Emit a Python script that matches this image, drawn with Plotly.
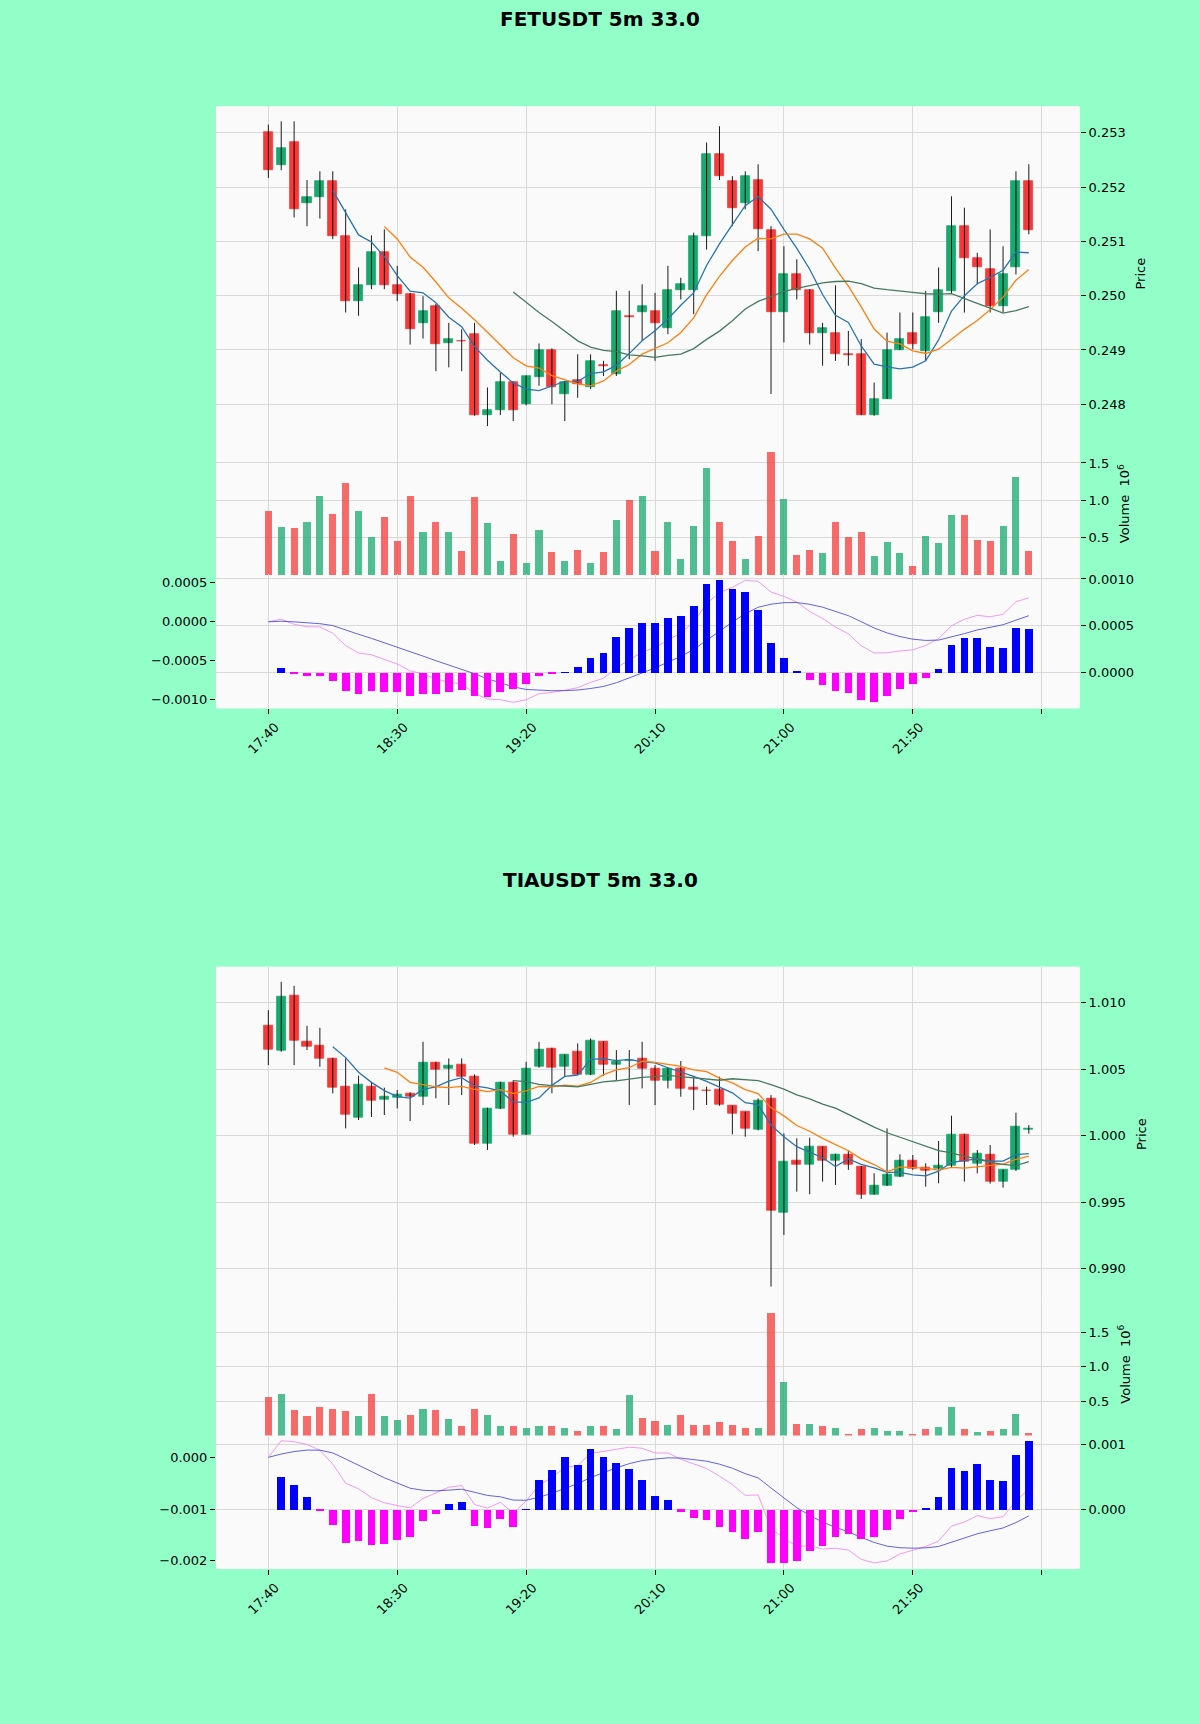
import pandas as pd
import plotly.graph_objects as go

W, H = 1200, 1724
HALF = 862

# x axis: one candle per 5 minutes, labels every 10 candles
TICK_POS = [0, 10, 20, 30, 40, 50]
TICK_TEXT = ["17:40", "18:30", "19:20", "20:10", "21:00", "21:50"]
EXTRA_TICK = [60]

fet_open = [0.25302, 0.25240, 0.25282, 0.25170, 0.25182, 0.25211, 0.25110, 0.24990, 0.25019, 0.25081,
            0.25019, 0.25002, 0.24949, 0.24981, 0.24912, 0.24917, 0.24929, 0.24780, 0.24790, 0.24840,
            0.24800, 0.24850, 0.24900, 0.24819, 0.24845, 0.24831, 0.24872, 0.24855, 0.24962, 0.24969,
            0.24971, 0.24941, 0.25010, 0.25010, 0.25110, 0.25261, 0.25211, 0.25171, 0.25213, 0.25121,
            0.24970, 0.25039, 0.25010, 0.24931, 0.24931, 0.24892, 0.24892, 0.24780, 0.24810, 0.24900,
            0.24931, 0.24898, 0.24969, 0.25009, 0.25129, 0.25070, 0.25049, 0.24981, 0.25052, 0.25211]
fet_high = [0.25315, 0.25321, 0.25321, 0.25213, 0.25229, 0.25229, 0.25159, 0.25052, 0.25111, 0.25122,
            0.25055, 0.25005, 0.24999, 0.24985, 0.24950, 0.24938, 0.24950, 0.24831, 0.24858, 0.24842,
            0.24853, 0.24912, 0.24903, 0.24841, 0.24892, 0.24892, 0.24880, 0.25009, 0.25009, 0.25021,
            0.25005, 0.25055, 0.25033, 0.25116, 0.25282, 0.25312, 0.25220, 0.25229, 0.25242, 0.25128,
            0.25091, 0.25067, 0.25012, 0.24950, 0.25019, 0.24935, 0.24920, 0.24840, 0.24932, 0.24969,
            0.24969, 0.25009, 0.25052, 0.25183, 0.25162, 0.25079, 0.25122, 0.25091, 0.25229, 0.25242]
fet_low = [0.25217, 0.25231, 0.25144, 0.25128, 0.25142, 0.25104, 0.24969, 0.24963, 0.25012, 0.25012,
           0.24990, 0.24910, 0.24921, 0.24861, 0.24868, 0.24861, 0.24779, 0.24760, 0.24780, 0.24769,
           0.24798, 0.24834, 0.24800, 0.24769, 0.24812, 0.24828, 0.24852, 0.24852, 0.24883, 0.24917,
           0.24880, 0.24929, 0.24993, 0.24966, 0.25085, 0.25213, 0.25128, 0.25159, 0.25082, 0.24819,
           0.24914, 0.24993, 0.24910, 0.24871, 0.24880, 0.24871, 0.24780, 0.24779, 0.24810, 0.24900,
           0.24901, 0.24880, 0.24950, 0.25003, 0.24969, 0.25021, 0.24969, 0.24969, 0.25039, 0.25113]
fet_close = [0.25231, 0.25272, 0.25159, 0.25182, 0.25211, 0.25109, 0.24990, 0.25020, 0.25081, 0.25019,
             0.25002, 0.24939, 0.24971, 0.24910, 0.24920, 0.24916, 0.24780, 0.24790, 0.24840, 0.24790,
             0.24851, 0.24900, 0.24831, 0.24840, 0.24838, 0.24880, 0.24870, 0.24971, 0.24961, 0.24981,
             0.24950, 0.25010, 0.25021, 0.25110, 0.25261, 0.25220, 0.25162, 0.25220, 0.25122, 0.24970,
             0.25039, 0.25010, 0.24931, 0.24941, 0.24892, 0.24890, 0.24780, 0.24810, 0.24900, 0.24920,
             0.24910, 0.24961, 0.25010, 0.25129, 0.25070, 0.25052, 0.24981, 0.25039, 0.25211, 0.25121]
fet_volume = [0.86, 0.635, 0.62, 0.71, 1.05, 0.81, 1.23, 0.86, 0.51, 0.77,
              0.455, 1.06, 0.577, 0.70, 0.577, 0.32, 1.036, 0.69, 0.19, 0.545,
              0.16, 0.595, 0.306, 0.185, 0.33, 0.16, 0.306, 0.734, 0.995, 1.05,
              0.32, 0.71, 0.207, 0.653, 1.43, 0.70, 0.455, 0.207, 0.52, 1.64,
              1.02, 0.26, 0.33, 0.29, 0.70, 0.51, 0.577, 0.25, 0.44, 0.29,
              0.117, 0.52, 0.42, 0.80, 0.80, 0.47, 0.455, 0.653, 1.306, 0.32]
fet_macd_bar = [0.0, 0.00005, -0.000018, -0.00004, -0.00004, -0.000093, -0.0002, -0.000232, -0.0002, -0.000207,
                -0.000207, -0.000243, -0.000225, -0.000232, -0.000207, -0.000189, -0.000243, -0.00026, -0.000207, -0.000179,
                -0.000125, -0.00004, -0.000018, 0.000007, 0.00006, 0.000157, 0.00021, 0.00038, 0.000471, 0.000532,
                0.000525, 0.000579, 0.0006, 0.00071, 0.000943, 0.000986, 0.000893, 0.000857, 0.000668, 0.000321,
                0.000157, 0.000014, -0.000082, -0.000136, -0.0002, -0.000218, -0.000296, -0.000314, -0.000243, -0.000179,
                -0.000125, -0.000057, 0.000036, 0.0003, 0.000371, 0.000371, 0.000275, 0.000264, 0.000471, 0.000461]

tia_open = [1.00830, 1.00635, 1.01055, 1.00705, 1.00675, 1.00580, 1.003675, 1.001375, 1.003675, 1.002675,
            1.00285, 1.003175, 1.002925, 1.00550, 1.00505, 1.00535, 1.004425, 0.999425, 1.00205, 1.00400,
            1.00010, 1.005175, 1.00650, 1.005175, 1.00630, 1.00460, 1.00710, 1.00535, 1.00560, 1.00575,
            1.00505, 1.00410, 1.00500, 1.003575, 1.00340, 1.003425, 1.00225, 1.001775, 1.000425, 1.00275,
            0.99425, 0.99810, 0.99780, 0.999175, 0.99810, 0.99860, 0.99770, 0.99560, 0.99625, 0.996925,
            0.99810, 0.99760, 0.99750, 0.99775, 1.00010, 0.997925, 0.99860, 0.99655, 0.997425, 1.000425]
tia_high = [1.009425, 1.01155, 1.01125, 1.00825, 1.00810, 1.00585, 1.00580, 1.00450, 1.00400, 1.00360,
            1.003425, 1.00325, 1.00705, 1.00555, 1.00580, 1.00580, 1.00460, 1.00210, 1.00405, 1.004175,
            1.00555, 1.00705, 1.00660, 1.00612, 1.006925, 1.00730, 1.00710, 1.006425, 1.006425, 1.00705,
            1.00530, 1.00510, 1.00560, 1.004425, 1.003675, 1.004425, 1.00228, 1.00180, 1.00280, 1.00305,
            1.000175, 0.99980, 0.99985, 0.99920, 0.99865, 0.998925, 0.99772, 0.997175, 1.00055, 0.99860,
            0.99855, 0.997925, 0.99960, 1.00150, 1.00015, 0.998925, 0.99930, 0.99745, 1.001725, 1.00080]
tia_low = [1.00530, 1.00630, 1.00530, 1.006425, 1.005175, 1.00318, 1.00055, 1.00118, 1.00140, 1.00155,
           1.00205, 1.00110, 1.00230, 1.00280, 1.00230, 1.00305, 0.99930, 0.998925, 1.00200, 0.999925,
           1.00005, 1.00510, 1.00318, 1.004425, 1.00455, 1.00455, 1.00450, 1.004175, 1.00230, 1.00355,
           1.00230, 1.00355, 1.002925, 1.001925, 1.00230, 1.00225, 1.00010, 0.999925, 1.00040, 0.988675,
           0.99255, 0.99580, 0.99560, 0.99655, 0.99630, 0.99743, 0.99525, 0.99558, 0.99622, 0.99690,
           0.99743, 0.996175, 0.996425, 0.99760, 0.99655, 0.997175, 0.99640, 0.99610, 0.99735, 1.00015]
tia_close = [1.006425, 1.010425, 1.007125, 1.006675, 1.00580, 1.00360, 1.00155, 1.00380, 1.00260, 1.002925,
             1.00310, 1.002925, 1.00550, 1.004925, 1.005225, 1.004425, 0.999425, 1.00205, 1.00400, 1.00010,
             1.00500, 1.006425, 1.00510, 1.00610, 1.00460, 1.007175, 1.00530, 1.00555, 1.00565, 1.00500,
             1.00410, 1.00500, 1.00350, 1.00348, 1.00335, 1.00230, 1.001675, 1.00055, 1.00260, 0.99435,
             0.99805, 0.99780, 0.999175, 0.99810, 0.99860, 0.99780, 0.99560, 0.99625, 0.99710, 0.99810,
             0.99750, 0.99735, 0.99775, 1.00010, 0.99805, 0.998675, 0.99655, 0.997425, 1.000675, 1.000525]
tia_volume = [0.56, 0.61, 0.38, 0.28, 0.42, 0.39, 0.356, 0.28, 0.61, 0.28,
              0.234, 0.297, 0.395, 0.37, 0.25, 0.136, 0.395, 0.297, 0.136, 0.146,
              0.12, 0.146, 0.146, 0.11, 0.073, 0.146, 0.136, 0.097, 0.59, 0.258,
              0.21, 0.15, 0.297, 0.15, 0.16, 0.20, 0.15, 0.11, 0.11, 1.778,
              0.784, 0.17, 0.17, 0.146, 0.12, 0.024, 0.097, 0.11, 0.073, 0.073,
              0.024, 0.10, 0.127, 0.42, 0.097, 0.054, 0.073, 0.10, 0.317, 0.04]
tia_macd_bar = [0.0, 0.000513, 0.000389, 0.000202, -0.00001, -0.000238, -0.000508, -0.000482, -0.000534, -0.000518,
                -0.000456, -0.000415, -0.000171, -0.000057, 0.000098, 0.000114, -0.000249, -0.000275, -0.000135, -0.000264,
                0.000003, 0.000467, 0.000607, 0.000814, 0.000695, 0.000944, 0.000814, 0.000715, 0.000632, 0.000467,
                0.000218, 0.000156, -0.000026, -0.000119, -0.000161, -0.000259, -0.000337, -0.000441, -0.000342, -0.000819,
                -0.000819, -0.000783, -0.000632, -0.000549, -0.00042, -0.000378, -0.000441, -0.00042, -0.000316, -0.000145,
                -0.000031, 0.000026, 0.000192, 0.000643, 0.000601, 0.00071, 0.000461, 0.000441, 0.00085, 0.001058]

MA_WINDOWS = [6, 10, 20]
MA_COLORS = ["#2a74ad", "#ff7f0e", "#467a60"]

UP, DOWN = "#17a96e", "#f63a3a"
UP_VOL, DOWN_VOL = "rgba(23,169,110,0.75)", "rgba(246,58,58,0.75)"
GRID = "#d9d9d9"
FONT = dict(family="DejaVu Sans", size=13, color="black")

charts = [
    dict(title="FETUSDT 5m 33.0", o=fet_open, h=fet_high, l=fet_low, c=fet_close, v=fet_volume,
         bar=fet_macd_bar, pdtick=0.001, mfmt=".4f", mdtick=0.0005),
    dict(title="TIAUSDT 5m 33.0", o=tia_open, h=tia_high, l=tia_low, c=tia_close, v=tia_volume,
         bar=tia_macd_bar, pdtick=0.005, mfmt=".3f", mdtick=0.001),
]


def py(px):
    return 1 - px / H


def padded(lo, hi, frac=0.05):
    span = hi - lo
    return [lo - frac * span, hi + frac * span]


def nm(a, i):
    return a if i == 1 else f"{a}{i}"


fig = go.Figure()
layout = {}
annotations = []
xdom = [216 / W, 1080 / W]
xrange_ = [-4.06, 62.97]

for k, ch in enumerate(charts):
    off = k * HALF
    n = len(ch["c"])
    idx = list(range(n))
    close = pd.Series(ch["c"])

    xp, xv, xm = 3 * k + 1, 3 * k + 2, 3 * k + 3
    yp, yv, yl, yr = 4 * k + 1, 4 * k + 2, 4 * k + 3, 4 * k + 4

    # wicks
    wx, wy = [], []
    for i in idx:
        wx += [i, i, None]
        wy += [ch["l"][i], ch["h"][i], None]
    fig.add_trace(go.Scatter(x=wx, y=wy, mode="lines", line=dict(color="black", width=0.9),
                             xaxis=nm("x", xp), yaxis=nm("y", yp), hoverinfo="skip"))

    # candle bodies
    up = [ch["c"][i] >= ch["o"][i] for i in idx]
    base = [min(ch["o"][i], ch["c"][i]) for i in idx]
    hgt = [abs(ch["c"][i] - ch["o"][i]) for i in idx]
    cols = [UP if u else DOWN for u in up]
    fig.add_trace(go.Bar(x=idx, y=hgt, base=base, width=0.7,
                         marker=dict(color=cols, line=dict(color=cols, width=0.8)),
                         xaxis=nm("x", xp), yaxis=nm("y", yp)))

    # moving averages
    for w, col in zip(MA_WINDOWS, MA_COLORS):
        fig.add_trace(go.Scatter(x=idx, y=close.rolling(w).mean(), mode="lines",
                                 line=dict(color=col, width=1.3),
                                 xaxis=nm("x", xp), yaxis=nm("y", yp)))

    # volume, coloured by close against previous close
    vup = [up[0]] + [ch["c"][i] >= ch["c"][i - 1] for i in idx[1:]]
    vcols = [UP_VOL if u else DOWN_VOL for u in vup]
    fig.add_trace(go.Bar(x=idx, y=ch["v"], width=0.55, marker=dict(color=vcols, line=dict(width=0)),
                         xaxis=nm("x", xv), yaxis=nm("y", yv)))

    # macd lines (left axis) and bars (right axis)
    dif = close.ewm(span=12, adjust=False).mean() - close.ewm(span=26, adjust=False).mean()
    dea = dif.ewm(span=9, adjust=False).mean()
    fig.add_trace(go.Scatter(x=idx, y=dif, mode="lines", line=dict(color="violet", width=0.8),
                             xaxis=nm("x", xm), yaxis=nm("y", yl)))
    fig.add_trace(go.Scatter(x=idx, y=dea, mode="lines", line=dict(color="#3b3bdb", width=0.8),
                             xaxis=nm("x", xm), yaxis=nm("y", yl)))
    hcols = ["#0000ff" if v >= 0 else "#ff00ff" for v in ch["bar"]]
    fig.add_trace(go.Bar(x=idx, y=ch["bar"], width=0.6, marker=dict(color=hcols, line=dict(width=0)),
                         xaxis=nm("x", xm), yaxis=nm("y", yr)))

    common_x = dict(domain=xdom, range=xrange_, tickvals=TICK_POS, showgrid=True, gridcolor=GRID,
                    gridwidth=1.3, zeroline=False, showline=False)
    minor_hidden = dict(tickvals=EXTRA_TICK, ticks="", showgrid=True, gridcolor=GRID, gridwidth=1.3)
    layout[nm("xaxis", xp)] = dict(common_x, anchor=nm("y", yp), showticklabels=False, ticks="",
                                   minor=minor_hidden)
    layout[nm("xaxis", xv)] = dict(common_x, anchor=nm("y", yv), showticklabels=False, ticks="",
                                   minor=minor_hidden)
    layout[nm("xaxis", xm)] = dict(common_x, anchor=nm("y", yl), ticktext=TICK_TEXT, ticks="outside",
                                   ticklen=5, tickcolor="black", tickangle=-45, ticklabelshift=7,
                                   ticklabelstandoff=0, tickfont=FONT,
                                   minor=dict(minor_hidden, ticks="outside", ticklen=5, tickcolor="black"))

    common_y = dict(zeroline=False, showline=False, ticks="outside", ticklen=5, tickcolor="black",
                    tickfont=FONT, gridcolor=GRID, gridwidth=1.3)
    layout[nm("yaxis", yp)] = dict(common_y, domain=[py(439 + off), py(103.3 + off)], anchor=nm("x", xp),
                                   side="right", range=padded(min(ch["l"]), max(ch["h"])),
                                   dtick=ch["pdtick"], tickformat=".3f", showgrid=True)
    layout[nm("yaxis", yv)] = dict(common_y, domain=[py(573 + off), py(438 + off)], anchor=nm("x", xv),
                                   side="right", range=[0, 1.1 * max(ch["v"])],
                                   tickvals=[0.5, 1.0, 1.5], tickformat=".1f", showgrid=True)
    layout[nm("yaxis", yl)] = dict(common_y, domain=[py(706.7 + off), py(572.2 + off)], anchor=nm("x", xm),
                                   side="left", range=padded(min(dif.min(), dea.min()), max(dif.max(), dea.max())),
                                   dtick=ch["mdtick"], tickformat=ch["mfmt"], showgrid=False)
    layout[nm("yaxis", yr)] = dict(common_y, overlaying=nm("y", yl), anchor=nm("x", xm), side="right",
                                   range=padded(min(ch["bar"]), max(ch["bar"])),
                                   dtick=ch["mdtick"], tickformat=ch["mfmt"], showgrid=True)

    annotations.append(dict(text=f"<b>{ch['title']}</b>", x=0.5, y=py(16.5 + off), xref="paper",
                            yref="paper", xanchor="center", yanchor="middle", showarrow=False,
                            font=dict(family="DejaVu Sans", size=20, color="black")))
    annotations.append(dict(text="Price", x=1141 / W, y=py(271 + off), xref="paper", yref="paper",
                            xanchor="center", yanchor="middle", textangle=-90, showarrow=False, font=FONT))
    annotations.append(dict(text="Volume  10<sup>6</sup>", x=1124 / W, y=py(502 + off), xref="paper",
                            yref="paper", xanchor="center", yanchor="middle", textangle=-90,
                            showarrow=False, font=FONT))

fig.update_layout(**layout)
fig.update_layout(width=W, height=H, autosize=False, margin=dict(l=0, r=0, t=0, b=0),
                  paper_bgcolor="#92ffc9", plot_bgcolor="#fafafa", showlegend=False,
                  barmode="overlay", bargap=0, annotations=annotations, font=FONT)

fig.write_html("out.html", config={"displayModeBar": False},
               post_script="document.body.style.margin='0';document.body.style.background='#92ffc9';")
